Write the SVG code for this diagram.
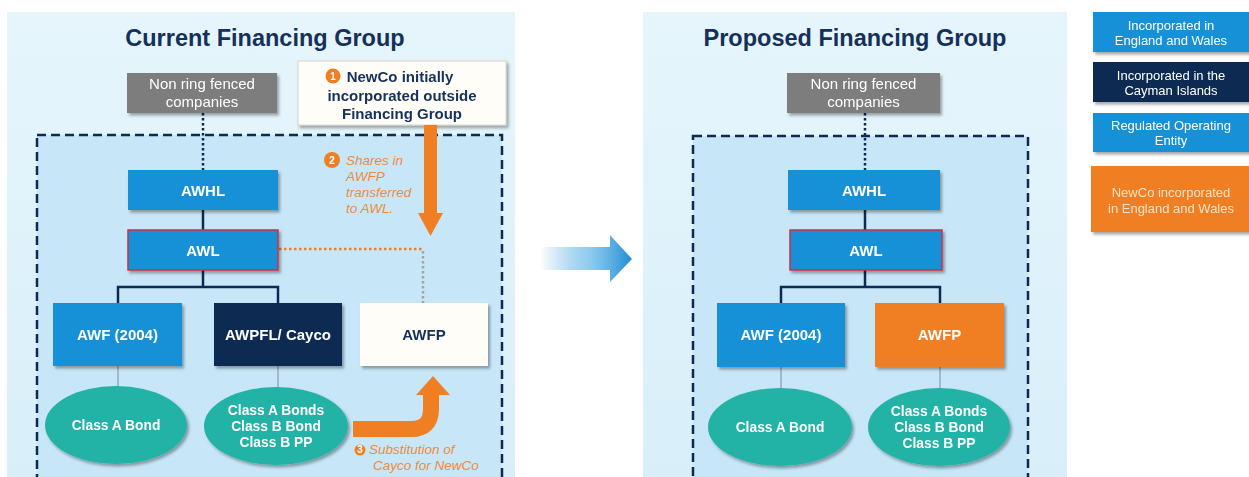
<svg xmlns="http://www.w3.org/2000/svg" width="1249" height="477" viewBox="0 0 1249 477">
<defs>
  <filter id="sh" x="-10%" y="-10%" width="125%" height="135%">
    <feDropShadow dx="2" dy="2.5" stdDeviation="1.6" flood-color="#000" flood-opacity="0.35"/>
  </filter>
  <linearGradient id="bigArrow" x1="0" y1="0" x2="1" y2="0">
    <stop offset="0" stop-color="#2c95d8" stop-opacity="0"/>
    <stop offset="0.55" stop-color="#5db4e6" stop-opacity="0.7"/>
    <stop offset="1" stop-color="#1f8cd3"/>
  </linearGradient>
  <linearGradient id="panel" x1="0" y1="0" x2="0" y2="1">
    <stop offset="0" stop-color="#e6f5fc"/>
    <stop offset="1" stop-color="#d8eff9"/>
  </linearGradient>
  <style>
    .ttl{font-family:"Liberation Sans",Arial,sans-serif;font-weight:bold;font-size:23.5px;fill:#15315b;text-anchor:middle}
    .blue{fill:#1790d7}
    .navy{fill:#0d2a52}
    .gray{fill:#7d7d7d}
    .orange{fill:#f07e23}
    .teal{fill:#20b3a6}
    .wt{font-family:"Liberation Sans",Arial,sans-serif;font-weight:bold;font-size:15px;fill:#ffffff;text-anchor:middle}
    .nt{font-family:"Liberation Sans",Arial,sans-serif;font-weight:bold;font-size:15px;fill:#15315b;text-anchor:middle}
    .gt{font-family:"Liberation Sans",Arial,sans-serif;font-size:15px;fill:#ffffff;text-anchor:middle}
    .et{font-family:"Liberation Sans",Arial,sans-serif;font-weight:bold;font-size:13.8px;fill:#ffffff;text-anchor:middle}
    .lt{font-family:"Liberation Sans",Arial,sans-serif;font-size:13px;fill:#ffffff;text-anchor:middle}
    .lo{fill:#fde3cc}
    .ot{font-family:"Liberation Sans",Arial,sans-serif;font-style:italic;font-size:13.5px;fill:#f08a3a}
    .num{font-family:"Liberation Sans",Arial,sans-serif;font-weight:bold;font-size:10px;fill:#ffffff;text-anchor:middle}
    .dash{fill:#c7e7f8;stroke:#0d2a52;stroke-width:2.5;stroke-dasharray:9 5}
    .solid{fill:none;stroke:#0d2a52;stroke-width:2.5}
    .dot{fill:none;stroke:#0d2a52;stroke-width:2.5;stroke-dasharray:2.5 2.5}
    .thin{fill:none;stroke:#7e8d98;stroke-width:1}
    .odot{fill:none;stroke:#f07e23;stroke-width:2.5;stroke-dasharray:2.5 2.5}
    .gdot{fill:none;stroke:#a7a39b;stroke-width:2.5;stroke-dasharray:2.5 2.5}
  </style>
</defs>

<rect width="1249" height="477" fill="#ffffff"/>

<!-- panels -->
<g id="panel-current">
  <rect x="7" y="12" width="508" height="470" fill="url(#panel)"/>
  <text class="ttl" x="265" y="46">Current Financing Group</text>
  <rect class="dash" x="37" y="135" width="465" height="360"/>
</g>
<g id="panel-proposed">
  <rect x="643" y="12" width="424" height="470" fill="url(#panel)"/>
  <text class="ttl" x="855" y="46">Proposed Financing Group</text>
  <rect class="dash" x="693" y="136" width="335" height="360"/>
</g>

<!-- connectors -->
<g id="connectors">
  <!-- left -->
  <line class="dot" x1="203" y1="113" x2="203" y2="170"/>
  <line class="solid" x1="203" y1="210" x2="203" y2="230"/>
  <path class="solid" d="M203 270 V287 M118 303 V287 H278 V303"/>
  <line class="thin" x1="118" y1="366" x2="118" y2="388"/>
  <line class="thin" x1="278" y1="366" x2="278" y2="389"/>
  <line class="odot" x1="279" y1="249" x2="423" y2="249"/>
  <line class="gdot" x1="423" y1="251" x2="423" y2="303"/>
  <!-- right -->
  <line class="dot" x1="865" y1="113" x2="865" y2="170"/>
  <line class="solid" x1="865" y1="210" x2="865" y2="230"/>
  <path class="solid" d="M865 270 V287 M781 303 V287 H940 V303"/>
  <line class="thin" x1="781" y1="367" x2="781" y2="389"/>
  <line class="thin" x1="940" y1="367" x2="940" y2="389"/>
</g>

<!-- left nodes -->
<g id="l-nonring" filter="url(#sh)">
  <rect class="gray" x="127" y="73" width="150" height="40"/>
  <text class="gt" x="202" y="89">Non ring fenced</text>
  <text class="gt" x="202" y="107">companies</text>
</g>
<g id="l-newco" filter="url(#sh)">
  <rect x="298" y="61" width="208" height="64" fill="#fffdf8" stroke="#d7d2c8" stroke-width="1"/>
  <circle class="orange" cx="333" cy="76" r="7.5"/>
  <text class="num" x="333" y="79.5">1</text>
  <text class="nt" x="400" y="82" font-size="15.5">NewCo initially</text>
  <text class="nt" x="402" y="101" font-size="15.5">incorporated outside</text>
  <text class="nt" x="402" y="119" font-size="15.5">Financing Group</text>
</g>
<g id="l-awhl" filter="url(#sh)">
  <rect class="blue" x="128" y="170" width="150" height="40"/>
  <text class="wt" x="203" y="195.5">AWHL</text>
</g>
<g id="l-awl" filter="url(#sh)">
  <rect class="blue" x="128" y="230" width="150" height="40" stroke="#c8324a" stroke-width="1.5"/>
  <text class="wt" x="203" y="255.5">AWL</text>
</g>
<g id="l-awf" filter="url(#sh)">
  <rect class="blue" x="53" y="303" width="129" height="63"/>
  <text class="wt" x="117.5" y="340">AWF (2004)</text>
</g>
<g id="l-awpfl" filter="url(#sh)">
  <rect class="navy" x="214" y="303" width="128" height="63"/>
  <text class="wt" x="278" y="340" font-size="15.5">AWPFL/ Cayco</text>
</g>
<g id="l-awfp" filter="url(#sh)">
  <rect x="360" y="303" width="128" height="63" fill="#fffdf8"/>
  <text class="nt" x="424" y="340">AWFP</text>
</g>
<g id="l-bond1" filter="url(#sh)">
  <ellipse class="teal" cx="116" cy="425" rx="71" ry="39"/>
  <text class="et" x="116" y="430">Class A Bond</text>
</g>
<g id="l-bond2" filter="url(#sh)">
  <ellipse class="teal" cx="276" cy="426" rx="72" ry="39"/>
  <text class="et" x="276" y="415">Class A Bonds</text>
  <text class="et" x="276" y="431">Class B Bond</text>
  <text class="et" x="276" y="447">Class B PP</text>
</g>

<!-- step annotations -->
<g id="step2">
  <rect class="orange" x="424" y="125" width="13" height="89"/>
  <polygon class="orange" points="418,213 443,213 430.5,236"/>
  <circle class="orange" cx="332" cy="160" r="8"/>
  <text class="num" x="332" y="163.5">2</text>
  <text class="ot" x="346" y="165">Shares in</text>
  <text class="ot" x="346" y="181">AWFP</text>
  <text class="ot" x="346" y="197">transferred</text>
  <text class="ot" x="346" y="213">to AWL.</text>
</g>
<g id="step3">
  <path d="M353 429 H411 Q431 429 431 409 V394" fill="none" stroke="#f07e23" stroke-width="16"/>
  <polygon class="orange" points="416,395 450,395 433,376"/>
  <circle class="orange" cx="360" cy="450" r="5.5"/>
  <text class="num" x="360" y="453" font-size="8.5">3</text>
  <text class="ot" x="369" y="454" font-size="13">Substitution of</text>
  <text class="ot" x="373" y="470" font-size="13">Cayco for NewCo</text>
</g>

<!-- middle arrow -->
<g id="transition-arrow">
  <polygon fill="url(#bigArrow)" points="540,247 610,247 610,235 632,259 610,282 610,270 540,270"/>
</g>

<!-- right nodes -->
<g id="r-nonring" filter="url(#sh)">
  <rect class="gray" x="787" y="73" width="153" height="40"/>
  <text class="gt" x="863.5" y="89">Non ring fenced</text>
  <text class="gt" x="863.5" y="107">companies</text>
</g>
<g id="r-awhl" filter="url(#sh)">
  <rect class="blue" x="788" y="170" width="152" height="40"/>
  <text class="wt" x="864" y="195.5">AWHL</text>
</g>
<g id="r-awl" filter="url(#sh)">
  <rect class="blue" x="790" y="230" width="152" height="40" stroke="#c8324a" stroke-width="1.5"/>
  <text class="wt" x="866" y="255.5">AWL</text>
</g>
<g id="r-awf" filter="url(#sh)">
  <rect class="blue" x="717" y="303" width="128" height="64"/>
  <text class="wt" x="781" y="340">AWF (2004)</text>
</g>
<g id="r-awfp" filter="url(#sh)">
  <rect class="orange" x="875" y="303" width="129" height="64"/>
  <text class="wt" x="939.5" y="340">AWFP</text>
</g>
<g id="r-bond1" filter="url(#sh)">
  <ellipse class="teal" cx="780" cy="427" rx="72" ry="39"/>
  <text class="et" x="780" y="432">Class A Bond</text>
</g>
<g id="r-bond2" filter="url(#sh)">
  <ellipse class="teal" cx="939" cy="427" rx="71" ry="39"/>
  <text class="et" x="939" y="416">Class A Bonds</text>
  <text class="et" x="939" y="432">Class B Bond</text>
  <text class="et" x="939" y="448">Class B PP</text>
</g>

<!-- legend -->
<g id="legend-ew" filter="url(#sh)">
  <rect class="blue" x="1093" y="12" width="160" height="40"/>
  <text class="lt" x="1171" y="30">Incorporated in</text>
  <text class="lt" x="1171" y="45">England and Wales</text>
</g>
<g id="legend-cayman" filter="url(#sh)">
  <rect class="navy" x="1093" y="62" width="160" height="40"/>
  <text class="lt" x="1171" y="80">Incorporated in the</text>
  <text class="lt" x="1171" y="95">Cayman Islands</text>
</g>
<g id="legend-reg" filter="url(#sh)">
  <rect class="blue" x="1093" y="113" width="160" height="39"/>
  <text class="lt" x="1171" y="130">Regulated Operating</text>
  <text class="lt" x="1171" y="145">Entity</text>
</g>
<g id="legend-newco" filter="url(#sh)">
  <rect class="orange" x="1091" y="166" width="162" height="66"/>
  <text class="lt lo" x="1171" y="197">NewCo incorporated</text>
  <text class="lt lo" x="1171" y="213">in England and Wales</text>
</g>
</svg>
